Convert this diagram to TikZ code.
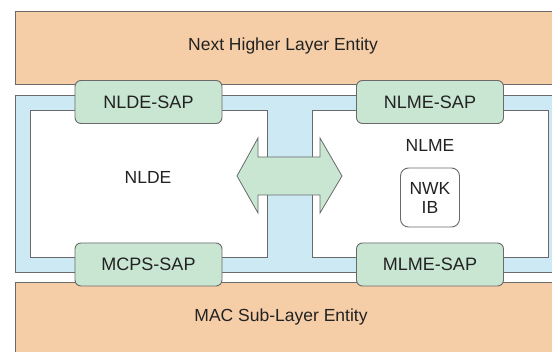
\documentclass[tikz,border=0pt]{standalone}
\usepackage{fontspec}
\setmainfont{Liberation Sans}
\definecolor{entorange}{HTML}{F5CEA8}
\definecolor{layblue}{HTML}{CCE9F4}
\definecolor{sapgreen}{HTML}{C8E6D2}
\definecolor{edgegray}{HTML}{6A6A6A}
\definecolor{txtgray}{HTML}{222222}
\begin{document}
\begin{tikzpicture}[x=1pt,y=-1pt,
  every node/.style={inner sep=0pt,outer sep=0pt,text=txtgray},
  entity/.style={draw=edgegray,fill=entorange,line width=0.9pt},
  frame/.style={fill=layblue},
  subbox/.style={draw=edgegray,fill=white,line width=0.9pt},
  sapbox/.style={draw=edgegray,fill=sapgreen,line width=0.9pt,rounded corners=6pt,
     minimum width=147pt,minimum height=43pt,font=\fontsize{18}{21}\selectfont},
  ibbox/.style={draw=edgegray,fill=white,line width=0.9pt,rounded corners=8pt,
     minimum width=59pt,minimum height=59pt,align=center,font=\fontsize{17.5}{19}\selectfont},
  lbl/.style={font=\fontsize{17.5}{20}\selectfont},
  arrowshape/.style={draw=edgegray,fill=sapgreen,line width=0.8pt,line join=miter}
]
\useasboundingbox (0,0) rectangle (552,352);
% entities
\path[entity] (15,11) rectangle (560,84);
\node[lbl] (nhle) at (283,46) {Next Higher Layer Entity};
\path[entity] (15,282) rectangle (560,360);
\node[lbl] (macle) at (281,317) {MAC Sub-Layer Entity};
% network layer frame
\fill[frame] (15,95) rectangle (560,272);
\draw[edgegray,line width=0.9pt] (560,95) -- (15,95) -- (15,272) -- (560,272);
% sub entities
\path[subbox] (30,110) rectangle (267,257);
\path[subbox] (312,110) rectangle (548,257);
\node[lbl] (nlde) at (148,177) {NLDE};
\node[lbl] (nlme) at (430,145) {NLME};
% double arrow
\path[arrowshape] (237,176) -- (258,138) -- (258,157) -- (320,157) -- (320,138)
  -- (342,176) -- (320,213) -- (320,195) -- (258,195) -- (258,213) -- cycle;
% SAPs
\node[sapbox] (nldesap) at (148.5,102) {NLDE-SAP};
\node[sapbox] (nlmesap) at (430,102) {NLME-SAP};
\node[sapbox] (mcpssap) at (148.5,264.5) {MCPS-SAP};
\node[sapbox] (mlmesap) at (430,264.5) {MLME-SAP};
% NWK IB
\node[ibbox] (nwkib) at (430,197.5) {NWK\\IB};
\end{tikzpicture}
\end{document}
